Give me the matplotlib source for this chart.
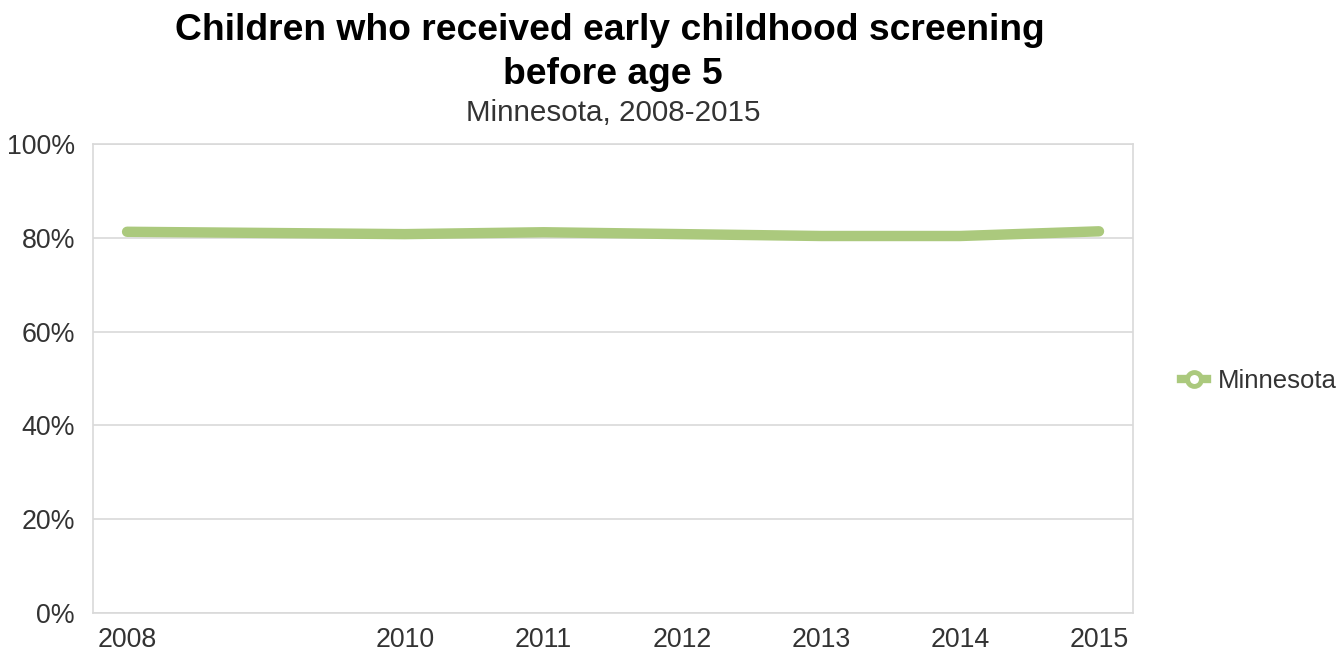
import matplotlib
matplotlib.use("Agg")
import matplotlib.pyplot as plt
from matplotlib.lines import Line2D

plt.rcParams['font.family'] = ['Liberation Sans', 'DejaVu Sans']

years = [2008, 2010, 2011, 2012, 2013, 2014, 2015]
screened = [81.3, 80.8, 81.2, 80.8, 80.4, 80.4, 81.4]
y_ticks = [0, 20, 40, 60, 80, 100]

green = '#abc97d'
grid = '#d9d9d9'

fig = plt.figure(figsize=(13.41, 6.52), dpi=100)
ax = fig.add_axes([0.0694, 0.0598, 0.7755, 0.7192])

ax.plot(years, screened, color=green, linewidth=7.5, solid_capstyle='round',
        solid_joinstyle='round')

ax.set_xlim(2007.755, 2015.245)
ax.set_ylim(0, 100)
ax.set_xticks(years)
ax.set_xticklabels([str(y) for y in years])
ax.set_yticks(y_ticks)
ax.set_yticklabels([f'{v}%' for v in y_ticks])
ax.tick_params(axis='both', length=0, labelsize=19.3, colors='#333333')
ax.tick_params(axis='y', pad=13)
ax.tick_params(axis='x', pad=10)
ax.grid(axis='y', color=grid, linewidth=1.2)
ax.set_axisbelow(True)
for side in ax.spines.values():
    side.set_color(grid)
    side.set_linewidth(1.2)

fig.text(0.455, 0.953, 'Children who received early childhood screening',
         ha='center', va='center', fontsize=26.8, fontweight='bold')
fig.text(0.457, 0.886, 'before age 5', ha='center', va='center',
         fontsize=26.8, fontweight='bold')
fig.text(0.457, 0.826, 'Minnesota, 2008-2015', ha='center', va='center',
         fontsize=21.3, color='#333333')

handle = Line2D([0], [0], color=green, linewidth=6, marker='o',
                markersize=10, markerfacecolor='white',
                markeredgecolor=green, markeredgewidth=3.5)
fig.legend([handle], ['Minnesota'], loc='center left',
           bbox_to_anchor=(0.881, 0.415), frameon=False, fontsize=18.5,
           handlelength=1.0, handletextpad=0.4, borderpad=0, borderaxespad=0,
           labelcolor='#333333')

fig.savefig('out.png', dpi=100)
